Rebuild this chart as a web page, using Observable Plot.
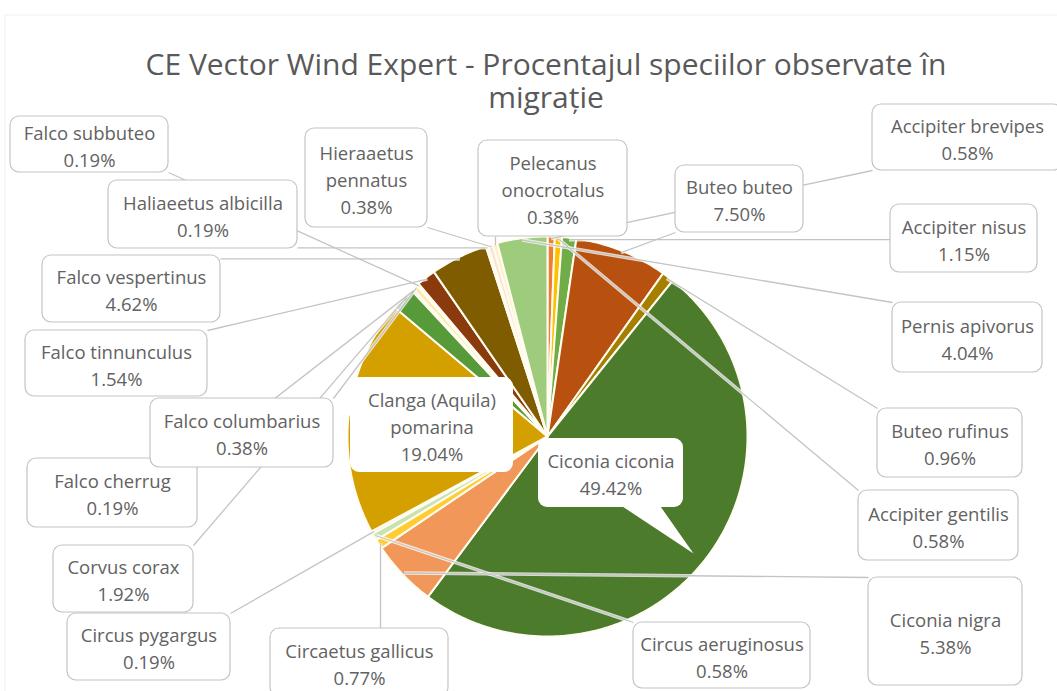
<!DOCTYPE html>
<html><head><meta charset="utf-8">
<script src="https://cdn.jsdelivr.net/npm/d3@7"></script>
<script src="https://cdn.jsdelivr.net/npm/@observablehq/plot@0.6"></script>
<style>
body{margin:0;background:#fff;}
#wrap{position:relative;width:1057px;height:691px;overflow:hidden;font-family:"Open Sans",sans-serif;}
.tl{position:absolute;left:0;width:1092px;text-align:center;color:#595959;font-size:30px;line-height:33px;height:33px;white-space:nowrap;pointer-events:none;}
</style></head><body>
<div id="wrap"><div id="chart"></div>
<div class="tl" style="top:47px">CE Vector Wind Expert - Procentajul speciilor observate în</div>
<div class="tl" style="top:80px">migrație</div></div>
<script>
// ---- data ----
const species = ["Accipiter brevipes","Accipiter gentilis","Accipiter nisus","Buteo buteo","Buteo rufinus","Ciconia ciconia","Ciconia nigra","Circaetus gallicus","Circus aeruginosus","Circus pygargus","Clanga (Aquila) pomarina","Corvus corax","Falco cherrug","Falco columbarius","Falco subbuteo","Falco tinnunculus","Falco vespertinus","Haliaeetus albicilla","Hieraaetus pennatus","Pelecanus onocrotalus","Pernis apivorus"];
const percents = [0.58,0.58,1.15,7.50,0.96,49.42,5.38,0.77,0.58,0.19,19.04,1.92,0.19,0.38,0.19,1.54,4.62,0.19,0.38,0.38,4.04];
const labelNames = ["Accipiter brevipes","Accipiter gentilis","Accipiter nisus","Buteo buteo","Buteo rufinus","Ciconia ciconia","Ciconia nigra","Circaetus gallicus","Circus aeruginosus","Circus pygargus","Clanga (Aquila)\npomarina","Corvus corax","Falco cherrug","Falco columbarius","Falco subbuteo","Falco tinnunculus","Falco vespertinus","Haliaeetus albicilla","Hieraaetus\npennatus","Pelecanus\nonocrotalus","Pernis apivorus"];
const sliceColors = ["#ED7D31","#FFC000","#70AD47","#B8500F","#A67E00","#4C7B2C","#F1975A","#FFCD33","#C9E3B0","#F3C9A8","#D4A000","#579A3A","#F8D5BD","#FFE9A8","#DDEFD0","#8A3A0C","#7F5C00","#E4F1DA","#FBE3D2","#FFF1C6","#9ECB7C"];

// ---- layout (label boxes, pixel frame) ----
const layout = {
  "Falco subbuteo":[10,116,168,172],
  "Haliaeetus albicilla":[108,180,297,248],
  "Hieraaetus pennatus":[305,128,427,227],
  "Pelecanus onocrotalus":[478,140,627,236],
  "Buteo buteo":[675,165,803,232],
  "Accipiter brevipes":[872,104,1062,170],
  "Accipiter nisus":[890,204,1037,272],
  "Pernis apivorus":[892,302,1042,372],
  "Buteo rufinus":[877,408,1022,477],
  "Accipiter gentilis":[858,490,1018,560],
  "Ciconia nigra":[868,577,1022,685],
  "Circus aeruginosus":[633,622,810,688],
  "Circaetus gallicus":[270,628,448,696],
  "Circus pygargus":[67,613,230,680],
  "Corvus corax":[53,545,193,612],
  "Falco cherrug":[27,458,197,527],
  "Falco columbarius":[150,398,333,467],
  "Falco tinnunculus":[25,330,207,396],
  "Falco vespertinus":[42,255,220,322],
  "Ciconia ciconia":[538,438,683,507],
  "Clanga (Aquila) pomarina":[350,377,513,472]
};
const insideCallouts = new Set(["Ciconia ciconia","Clanga (Aquila) pomarina"]);
const cx = 547, cy = 436, R = 200;

const rows = species.map((name, i) => ({name, pct: percents[i], label: labelNames[i], color: sliceColors[i]}));
const arcs = d3.pie().sort(null).value(d => d.pct)(rows);
const pt = (a, r) => ({x: cx + r * Math.sin(a), y: cy - r * Math.cos(a)});

const verts = [];
arcs.forEach(a => {
  const n = Math.max(2, Math.ceil((a.endAngle - a.startAngle) / 0.01));
  verts.push({name: a.data.name, color: a.data.color, ...pt(0, 0)});
  for (let k = 0; k <= n; k++) {
    const ang = a.startAngle + (a.endAngle - a.startAngle) * k / n;
    verts.push({name: a.data.name, color: a.data.color, ...pt(ang, R)});
  }
  verts.push({name: a.data.name, color: a.data.color, ...pt(0, 0)});
});

const labels = arcs.map(a => {
  const [x1, y1, x2, y2] = layout[a.data.name];
  const mid = (a.startAngle + a.endAngle) / 2;
  const t = pt(mid, R - 2);
  const ax = Math.max(x1, Math.min(x2, t.x)), ay = Math.max(y1, Math.min(y2, t.y));
  return {name: a.data.name, x1, y1, x2, y2, cx: (x1 + x2) / 2, cyy: (y1 + y2) / 2,
    text: `${a.data.label}\n${a.data.pct.toFixed(2)}%`, tx: t.x, ty: t.y, ax, ay, inside: insideCallouts.has(a.data.name)};
});
const outside = labels.filter(l => !l.inside);
const inside = labels.filter(l => l.inside);

// callout pointers for the inside labels
const pointers = [];
inside.forEach(l => {
  if (l.name === "Ciconia ciconia") {
    pointers.push({name: l.name, x: l.x1 + 84, y: l.y2 - 1}, {name: l.name, x: l.x1 + 122, y: l.y2 - 1}, {name: l.name, x: l.x2 + 10, y: l.y2 + 46});
  } else {
    pointers.push({name: l.name, x: l.x1 + 3, y: l.y1 + 16}, {name: l.name, x: l.x1 + 3, y: l.y1 + 44}, {name: l.name, x: l.x1 - 5, y: l.y1 + 32});
  }
});

const frame = [{x1: 5, y1: 15, x2: 1070, y2: 720}];

const chart = Plot.plot({
  width: 1057, height: 691, margin: 0,
  x: {domain: [0, 1057], range: [0, 1057], axis: null},
  y: {domain: [0, 691], range: [0, 691], axis: null},
  color: {type: "identity"},
  style: {fontFamily: "'Open Sans', sans-serif", background: "white"},
  marks: [
    Plot.rect(frame, {x1: "x1", y1: "y1", x2: "x2", y2: "y2", fill: "none", stroke: "#efefef", strokeWidth: 1}),
    Plot.line(verts, {x: "x", y: "y", z: "name", fill: "color", stroke: "#fffdf2", strokeWidth: 2, strokeLinejoin: "round", curve: "linear"}),
    Plot.link(outside, {x1: "ax", y1: "ay", x2: "tx", y2: "ty", stroke: "white", strokeWidth: 3.5, strokeOpacity: 0.75}),
    Plot.link(outside, {x1: "ax", y1: "ay", x2: "tx", y2: "ty", stroke: "#c4c4c4", strokeWidth: 1.3}),
    Plot.line(pointers, {x: "x", y: "y", z: "name", fill: "white", stroke: "none"}),
    Plot.rect(inside, {x1: "x1", y1: "y1", x2: "x2", y2: "y2", fill: "white", rx: 9}),
    Plot.rect(outside, {x1: "x1", y1: "y1", x2: "x2", y2: "y2", fill: "white", stroke: "#c4c4c4", strokeWidth: 1.2, rx: 9}),
    Plot.text(labels, {x: "cx", y: "cyy", text: "text", fontSize: 18.5, lineHeight: 1.46, fill: "#626262", textAnchor: "middle"})
  ]
});
document.getElementById("chart").appendChild(chart);
</script>
</body></html>
